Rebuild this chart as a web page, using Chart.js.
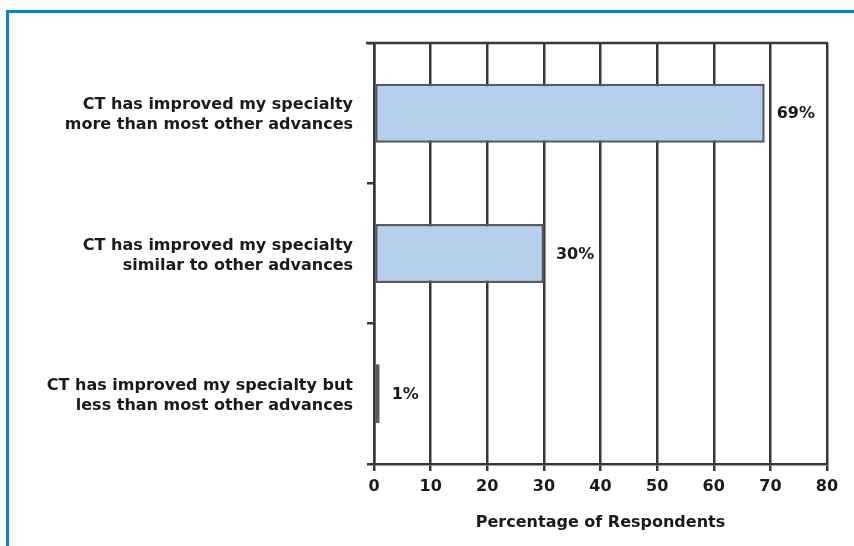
<!DOCTYPE html>
<html>
<head>
<meta charset="utf-8">
<script src="https://cdn.jsdelivr.net/npm/chart.js@4/dist/chart.umd.min.js"></script>
<style>
  html, body { margin: 0; padding: 0; background: #fff; }
  #wrap { position: relative; width: 854px; height: 546px; overflow: hidden; }
  #frame {
    position: absolute; left: 6px; top: 10px; width: 900px; height: 600px;
    border-top: 3px solid #0a86c8; border-left: 3px solid #0a86c8;
    pointer-events: none;
  }
  canvas { position: absolute; left: 0; top: 0; }
</style>
</head>
<body>
<div id="wrap">
  <canvas id="chart" width="854" height="546"></canvas>
  <div id="frame"></div>
</div>
<script>
const categories = [
  ["CT has improved my specialty", "more than most other advances"],
  ["CT has improved my specialty", "similar to other advances"],
  ["CT has improved my specialty but", "less than most other advances"]
];
const percentages = [69, 30, 1];
const xTicks = [0, 10, 20, 30, 40, 50, 60, 70, 80];

const lineColor = "#383838";
const textColor = "#1a1a1a";
const font = "'DejaVu Sans', Verdana, sans-serif";

// value labels to the right of each bar, plus the top edge of the plot
const barLabels = {
  id: "barLabels",
  afterDatasetsDraw(chart) {
    const ctx = chart.ctx;
    const meta = chart.getDatasetMeta(0);
    const xs = chart.scales.x;
    ctx.save();
    ctx.font = "bold 16px " + font;
    ctx.fillStyle = textColor;
    ctx.textBaseline = "middle";
    ctx.textAlign = "left";
    meta.data.forEach((bar, i) => {
      const v = percentages[i];
      ctx.fillText(v + "%", xs.getPixelForValue(v) + 12, bar.y + 1);
    });
    ctx.restore();
  },
  beforeDatasetsDraw(chart) {
    const { ctx, chartArea } = chart;
    ctx.save();
    ctx.strokeStyle = lineColor;
    ctx.lineWidth = 2.5;
    ctx.beginPath();
    ctx.moveTo(chartArea.left - 8, chartArea.top);
    ctx.lineTo(chartArea.right + 1, chartArea.top);
    ctx.stroke();
    ctx.restore();
  }
};

new Chart(document.getElementById("chart"), {
  type: "bar",
  data: {
    labels: categories,
    datasets: [{
      data: percentages,
      backgroundColor: "#b5cfec",
      borderColor: "#555a60",
      borderWidth: 2.5,
      borderSkipped: false,
      categoryPercentage: 1,
      barPercentage: 0.42
    }]
  },
  options: {
    indexAxis: "y",
    responsive: false,
    animation: false,
    layout: { padding: { left: 0, top: 43, right: 27, bottom: 0 } },
    plugins: {
      legend: { display: false },
      tooltip: { enabled: false }
    },
    scales: {
      x: {
        min: 0,
        max: 80,
        afterBuildTicks(scale) {
          scale.ticks = xTicks.map(v => ({ value: v }));
        },
        afterFit(scale) { scale.height = 82; },
        grid: { color: lineColor, lineWidth: 2.5, tickLength: 7 },
        border: { color: lineColor, width: 2.5 },
        ticks: {
          color: textColor,
          padding: 6,
          font: { family: font, size: 16, weight: "bold" }
        },
        title: {
          display: true,
          text: "Percentage of Respondents",
          color: textColor,
          padding: { top: 0, bottom: 14 },
          font: { family: font, size: 16, weight: "bold" }
        }
      },
      y: {
        afterFit(scale) { scale.width = 374; },
        grid: {
          drawOnChartArea: false,
          color: lineColor,
          lineWidth: 2.5,
          tickLength: 7,
          offset: true
        },
        border: { color: lineColor, width: 2.5 },
        ticks: {
          color: textColor,
          padding: 14,
          labelOffset: 2,
          font: { family: font, size: 16, weight: "bold", lineHeight: 1.25 }
        }
      }
    }
  },
  plugins: [barLabels]
});
</script>
</body>
</html>
